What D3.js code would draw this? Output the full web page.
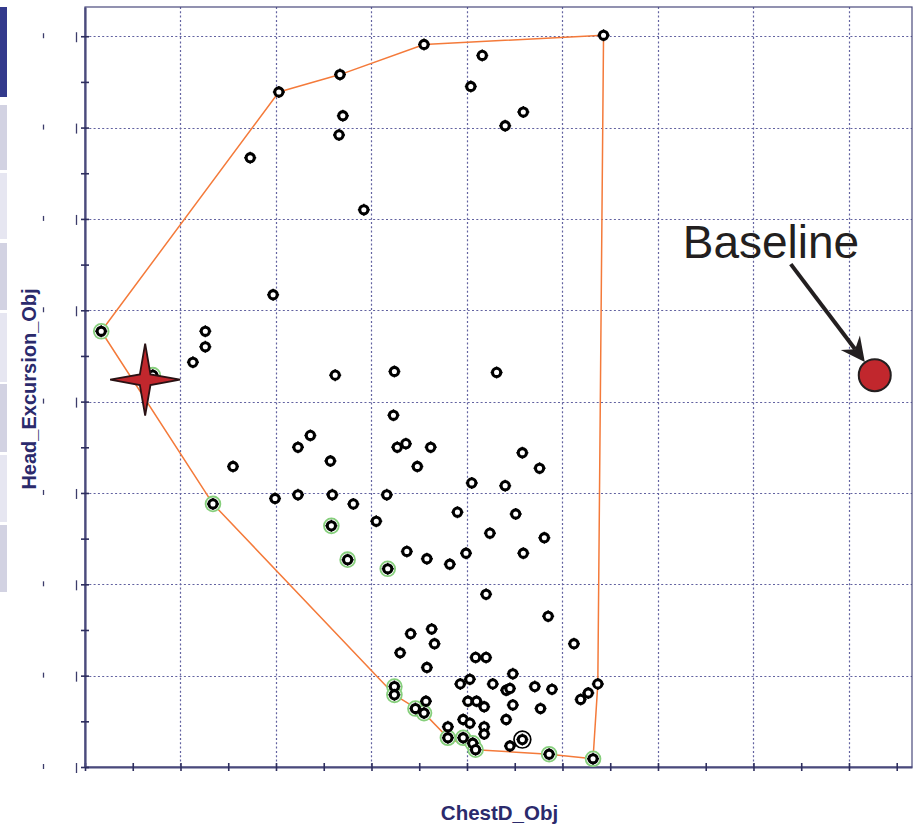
<!DOCTYPE html>
<html>
<head>
<meta charset="utf-8">
<script src="https://cdn.jsdelivr.net/npm/d3@7"></script>
<style>
  html, body { margin: 0; padding: 0; background: #ffffff; }
  svg { display: block; }
</style>
</head>
<body>
<svg id="chart" width="914" height="828"></svg>
<script>
// ---- design points: chest deflection vs. head excursion objectives ----
const chestD = [
  2.03, 2.67, 2.70, 2.66, 1.73, 3.55, 4.16, 4.04, 4.40, 4.59, 5.43, 2.92, 1.97,
  0.17, 1.26, 1.26, 1.13, 0.71, 1.55, 1.34, 1.99,
  2.62, 3.24, 4.31, 3.23, 2.36, 2.23, 3.27, 3.36, 3.62, 2.57, 3.48, 4.58, 4.76,
  4.05, 4.40, 2.23, 2.59, 2.81, 3.16, 3.90, 4.51, 2.58, 3.05, 4.24, 4.81, 2.75,
  3.37, 3.58, 3.82, 3.99, 4.59, 3.17, 4.20, 4.85,
  3.41, 3.63, 3.66, 3.30, 3.58, 4.09, 4.20, 5.12, 4.48, 3.93, 4.03, 4.27, 4.41,
  4.45, 4.71, 4.89, 5.19, 5.27, 5.37, 3.24, 3.24, 3.46, 3.55, 3.57, 4.01, 4.10,
  4.18, 4.48, 4.77, 3.80, 3.96, 4.03, 4.18, 4.18, 4.41, 3.80, 3.96, 4.06, 4.09,
  4.45, 4.86, 5.32
];
const headExcursion = [
  7.39, 7.58, 7.13, 6.92, 6.67, 7.91, 7.79, 7.45, 7.02, 7.17, 8.01, 6.10, 5.17,
  4.77, 4.77, 4.60, 4.43, 4.29, 3.29, 2.88, 2.94,
  4.29, 4.33, 4.32, 3.85, 3.63, 3.50, 3.50, 3.54, 3.50, 3.35, 3.29, 3.44, 3.27,
  3.11, 3.08, 2.98, 2.98, 2.88, 2.98, 2.79, 2.77, 2.64, 2.69, 2.56, 2.51, 2.27,
  2.36, 2.28, 2.22, 2.34, 2.34, 2.17, 1.89, 1.65,
  1.46, 1.51, 1.35, 1.25, 1.09, 1.20, 1.20, 1.35, 1.02, 0.91, 0.96, 0.91, 0.84,
  0.86, 0.88, 0.85, 0.74, 0.81, 0.91, 0.88, 0.79, 0.64, 0.59, 0.72, 0.72, 0.72,
  0.66, 0.68, 0.64, 0.44, 0.52, 0.48, 0.44, 0.36, 0.52, 0.32, 0.32, 0.26, 0.19,
  0.23, 0.14, 0.09
];
// 1 = non-dominated design (drawn with a green ring)
const nonDominated = [
  0, 0, 0, 0, 0, 0, 0, 0, 0, 0, 0, 0, 0,
  1, 0, 0, 0, 1, 0, 1, 0,
  0, 0, 0, 0, 0, 0, 0, 0, 0, 0, 0, 0, 0,
  0, 0, 0, 0, 0, 0, 0, 0, 1, 0, 0, 0, 1,
  0, 0, 0, 0, 0, 1, 0, 0,
  0, 0, 0, 0, 0, 0, 0, 0, 0, 0, 0, 0, 0,
  0, 0, 0, 0, 0, 0, 1, 1, 1, 1, 0, 0, 0,
  0, 0, 0, 0, 0, 0, 0, 0, 0, 1, 1, 1, 1,
  0, 1, 1
];

// boundary enclosing the sampled design space
const hullChestD = [0.17, 2.03, 2.67, 3.55, 5.43, 5.37, 5.32, 4.86, 4.09, 3.80, 3.55, 3.24, 1.34, 0.17];
const hullHead   = [4.77, 7.39, 7.58, 7.91, 8.01, 0.91, 0.09, 0.14, 0.19, 0.32, 0.59, 0.79, 2.88, 4.77];

// highlighted designs
const optimumChestD = 0.63, optimumHead = 4.24;     // red star
const selectedChestD = 4.58, selectedHead = 0.30;   // ringed design
const baselineChestD = 8.27, baselineHead = 4.29;   // baseline design
const baselineLabel = "Baseline";

// axes
const xMax = 8.66, yMax = 8.32;
const xMajor = [0, 1, 2, 3, 4, 5, 6, 7, 8];
const xMinor = [0.5, 1.5, 2.5, 3.5, 4.5, 5.5, 6.5, 7.5, 8.5];
const yMajor = [0, 1, 2, 3, 4, 5, 6, 7, 8];
const yMinor = [0.5, 1.5, 2.5, 3.5, 4.5, 5.5, 6.5, 7.5];
const xTitle = "ChestD_Obj";
const yTitle = "Head_Excursion_Obj";

// side panel tabs
const tabTops    = [7, 105, 173, 243, 313, 384, 455, 525];
const tabBottoms = [97, 170, 239, 310, 382, 452, 522, 592];
const tabColors  = ["#333a8c", "#d2d2e2", "#e6e6f1", "#d2d2e2", "#e6e6f1", "#d2d2e2", "#e6e6f1", "#d2d2e2"];

// ---------------------------------------------------------------
const svg = d3.select("#chart");
const L = 85, T = 7, R = 912, B = 767;
const axisColor = "#4a4a7c";
const gridColor = "#6262a0";

const x = d3.scaleLinear().domain([0, xMax]).range([L, R]);
const y = d3.scaleLinear().domain([0, yMax]).range([B, T]);

// side tabs
svg.append("g").selectAll("rect")
  .data(tabTops)
  .join("rect")
  .attr("x", 0).attr("width", 7)
  .attr("y", d => d)
  .attr("height", (d, i) => tabBottoms[i] - d)
  .attr("fill", (d, i) => tabColors[i]);

// dotted grid
const grid = svg.append("g")
  .attr("stroke", gridColor)
  .attr("stroke-width", 1.2)
  .attr("stroke-dasharray", "2,2.3");
grid.selectAll("line.v")
  .data(xMajor.filter(v => v > 0))
  .join("line").attr("class", "v")
  .attr("x1", d => Math.round(x(d)) + 0.5).attr("x2", d => Math.round(x(d)) + 0.5)
  .attr("y1", T).attr("y2", B);
grid.selectAll("line.h")
  .data(yMajor.filter(v => v > 0))
  .join("line").attr("class", "h")
  .attr("y1", d => Math.round(y(d)) + 0.5).attr("y2", d => Math.round(y(d)) + 0.5)
  .attr("x1", L).attr("x2", R);

// frame
svg.append("rect")
  .attr("x", L).attr("y", T)
  .attr("width", R - L).attr("height", B - T)
  .attr("fill", "none")
  .attr("stroke", axisColor)
  .attr("stroke-width", 1.2);

// axes with ticks crossing the axis line
const xAxis = svg.append("g")
  .attr("transform", `translate(0,${B})`)
  .call(d3.axisBottom(x).tickValues(xMajor.concat(xMinor)).tickSize(4).tickSizeOuter(0).tickFormat(""));
const yAxis = svg.append("g")
  .attr("transform", `translate(${L},0)`)
  .call(d3.axisLeft(y).tickValues(yMajor.concat(yMinor)).tickSize(4).tickSizeOuter(0).tickFormat(""));
[xAxis, yAxis].forEach(g => {
  g.select(".domain").attr("stroke", axisColor).attr("stroke-width", 2.2);
  g.selectAll(".tick line").attr("stroke", "#2e2e5e").attr("stroke-width", 1.6);
});
xAxis.selectAll(".tick line").attr("y1", -4).attr("y2", 4);
yAxis.selectAll(".tick line").attr("x1", -4).attr("x2", 4);

// clipped tick-label fragments along the left edge
const frag = svg.append("g").attr("stroke", "#3c3c6a").attr("stroke-width", 1.3);
frag.selectAll("line.a").data(yMajor).join("line").attr("class", "a")
  .attr("x1", 76.5).attr("x2", 76.5)
  .attr("y1", d => y(d) - 4).attr("y2", d => y(d) + 6);
frag.selectAll("line.b").data(yMajor).join("line").attr("class", "b")
  .attr("x1", 43.5).attr("x2", 43.5)
  .attr("y1", d => y(d) - 3).attr("y2", d => y(d) + 2);

// design-space boundary
svg.append("path")
  .datum(hullChestD.map((v, i) => [v, hullHead[i]]))
  .attr("fill", "none")
  .attr("stroke", "#f47a3a")
  .attr("stroke-width", 1.5)
  .attr("stroke-linejoin", "round")
  .attr("d", d3.line().x(d => x(d[0])).y(d => y(d[1])));

// design points
const pts = chestD.map((v, i) => ({ cx: x(v), cy: y(headExcursion[i]), nd: nonDominated[i] }));

svg.append("g").selectAll("circle")
  .data(pts.filter(p => p.nd))
  .join("circle")
  .attr("cx", p => p.cx).attr("cy", p => p.cy)
  .attr("r", 7.4)
  .attr("fill", "#ffffff")
  .attr("stroke", "#86cf7c")
  .attr("stroke-width", 1.8);

function marker(g, cx, cy) {
  g.append("path")
    .attr("d", `M${cx - 6},${cy}H${cx + 6}M${cx},${cy - 6}V${cy + 6}`)
    .attr("stroke", "#000").attr("stroke-width", 1.5);
  g.append("circle")
    .attr("cx", cx).attr("cy", cy).attr("r", 4.1)
    .attr("fill", "#ffffff")
    .attr("stroke", "#000")
    .attr("stroke-width", 3.1);
}
const markers = svg.append("g");
pts.forEach(p => marker(markers, p.cx, p.cy));

// selected design: extra ring
svg.append("circle")
  .attr("cx", x(selectedChestD)).attr("cy", y(selectedHead))
  .attr("r", 8.4)
  .attr("fill", "#ffffff")
  .attr("stroke", "#000")
  .attr("stroke-width", 1.7);
marker(svg.append("g"), x(selectedChestD), y(selectedHead));

// optimum design: four-pointed star
{
  const cx = x(optimumChestD), cy = y(optimumHead);
  const outerX = 35, outerY = 36, inner = 7.5;
  const pts4 = [];
  for (let k = 0; k < 8; k++) {
    const a = k * Math.PI / 4;
    const rx = k % 2 === 0 ? outerX : inner;
    const ry = k % 2 === 0 ? outerY : inner;
    pts4.push([cx + rx * Math.cos(a), cy + ry * Math.sin(a)]);
  }
  svg.append("path")
    .attr("d", "M" + pts4.map(p => p.join(",")).join("L") + "Z")
    .attr("fill", "#c1272d")
    .attr("stroke", "#2a1214")
    .attr("stroke-width", 1.8)
    .attr("stroke-linejoin", "miter");
}

// baseline design with callout
{
  const bx = x(baselineChestD), by = y(baselineHead), br = 16;
  svg.append("circle")
    .attr("cx", bx).attr("cy", by).attr("r", br)
    .attr("fill", "#c1272d")
    .attr("stroke", "#231f20")
    .attr("stroke-width", 2);

  svg.append("text")
    .attr("x", bx - 192).attr("y", by - 117)
    .attr("font-family", "Liberation Sans, Arial, sans-serif")
    .attr("font-size", 46)
    .attr("fill", "#231f20")
    .text(baselineLabel);

  const sx = bx - 84, sy = by - 111;
  const dx = bx - sx, dy = by - sy, len = Math.hypot(dx, dy);
  const ux = dx / len, uy = dy / len, nx = -uy, ny = ux;
  const tx = bx - ux * (br + 0.5), ty = by - uy * (br + 0.5);
  const headLen = 24, notch = 16, wing = 12;
  svg.append("line")
    .attr("x1", sx).attr("y1", sy)
    .attr("x2", tx - ux * notch).attr("y2", ty - uy * notch)
    .attr("stroke", "#231f20").attr("stroke-width", 4);
  const hp = [
    [tx, ty],
    [tx - ux * headLen + nx * wing, ty - uy * headLen + ny * wing],
    [tx - ux * notch, ty - uy * notch],
    [tx - ux * headLen - nx * wing, ty - uy * headLen - ny * wing]
  ];
  svg.append("path")
    .attr("d", "M" + hp.map(p => p.join(",")).join("L") + "Z")
    .attr("fill", "#231f20");
}

// axis titles
svg.append("text")
  .attr("x", (L + R) / 2 + 1).attr("y", 820)
  .attr("text-anchor", "middle")
  .attr("font-family", "Liberation Sans, Arial, sans-serif")
  .attr("font-weight", "bold")
  .attr("font-size", 20.5)
  .attr("fill", "#2b2a6c")
  .text(xTitle);

svg.append("text")
  .attr("transform", "translate(36,389) rotate(-90)")
  .attr("text-anchor", "middle")
  .attr("font-family", "Liberation Sans, Arial, sans-serif")
  .attr("font-weight", "bold")
  .attr("font-size", 20)
  .attr("fill", "#2b2a6c")
  .text(yTitle);
</script>
</body>
</html>
